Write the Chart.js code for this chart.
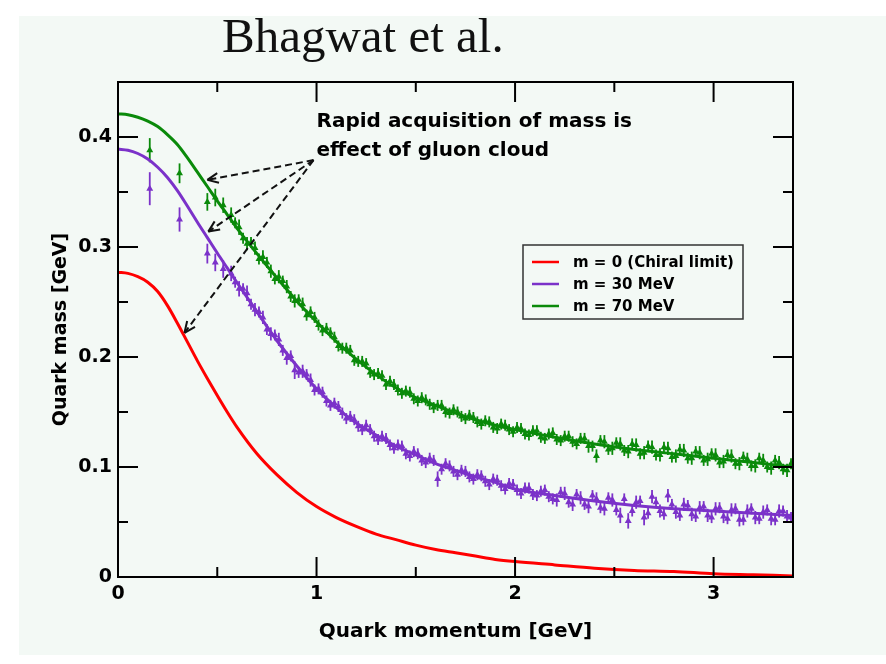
<!DOCTYPE html>
<html>
<head>
<meta charset="utf-8">
<title>Quark mass function</title>
<script src="https://cdn.jsdelivr.net/npm/chart.js@4.4.0/dist/chart.umd.min.js"></script>
<style>
  html, body { margin: 0; padding: 0; background: #fff; }
  #wrap { position: relative; width: 886px; height: 664px; overflow: hidden; }
  #panel { position: absolute; left: 19px; top: 16px; width: 867px; height: 639px; background: #f3f9f5; }
  #title { position: absolute; left: 222px; top: 7px; font: 49px "Liberation Serif", "Times New Roman", serif; color: #111; white-space: nowrap; }
  canvas { position: absolute; left: 0; top: 0; }
</style>
</head>
<body>
<div id="wrap">
  <div id="panel"></div>
  <div id="title">Bhagwat et al.</div>
  <canvas id="chart" width="886" height="664"></canvas>
</div>
<script>
// smooth curves (DSE results)
const curveP = [0, 0.05, 0.1, 0.15, 0.2, 0.25, 0.3, 0.35, 0.4, 0.45, 0.5, 0.55, 0.6,
  0.7, 0.8, 0.9, 1.0, 1.1, 1.2, 1.3, 1.4, 1.5, 1.6, 1.7, 1.8, 1.9, 2.0,
  2.2, 2.4, 2.6, 2.8, 3.0, 3.2, 3.4];
const chiralCurve = [0.277, 0.276, 0.273, 0.268, 0.2595, 0.2465, 0.2305, 0.2135, 0.1965, 0.1805, 0.165, 0.150, 0.136,
  0.112, 0.093, 0.077, 0.064, 0.054, 0.046, 0.039, 0.034, 0.029, 0.025, 0.022, 0.019, 0.016, 0.014,
  0.011, 0.008, 0.006, 0.005, 0.003, 0.002, 0.001];
const m30Curve = [0.389, 0.388, 0.385, 0.380, 0.3725, 0.363, 0.351, 0.337, 0.3225, 0.3085, 0.2945, 0.281, 0.2675,
  0.241, 0.215, 0.192, 0.171, 0.154, 0.140, 0.129, 0.119, 0.111, 0.103, 0.097, 0.091, 0.086, 0.080,
  0.074, 0.069, 0.065, 0.062, 0.060, 0.058, 0.056];
const m70Curve = [0.421, 0.4203, 0.418, 0.4145, 0.4095, 0.402, 0.393, 0.381, 0.368, 0.355, 0.342, 0.3295, 0.317,
  0.294, 0.272, 0.251, 0.232, 0.214, 0.198, 0.184, 0.172, 0.163, 0.156, 0.149, 0.143, 0.138, 0.134,
  0.127, 0.121, 0.116, 0.112, 0.108, 0.104, 0.100];

// lattice points, first momentum set
const latticeP = [0.16, 0.31, 0.45, 0.49, 0.53, 0.57, 0.61, 0.65, 0.69, 0.73,
  0.77, 0.81, 0.85, 0.89, 0.93, 0.97, 1.01, 1.05, 1.09, 1.13,
  1.17, 1.21, 1.25, 1.29, 1.33, 1.37, 1.41, 1.45, 1.49, 1.53,
  1.57, 1.61, 1.65, 1.69, 1.73, 1.77, 1.81, 1.85, 1.89, 1.93,
  1.97, 2.01, 2.05, 2.09, 2.13, 2.17, 2.21, 2.25, 2.29, 2.33,
  2.37, 2.41, 2.45, 2.49, 2.53, 2.57, 2.61, 2.65, 2.69, 2.73,
  2.77, 2.81, 2.85, 2.89, 2.93, 2.97, 3.01, 3.05, 3.09, 3.13,
  3.17, 3.21, 3.25, 3.29, 3.33, 3.37];
const m70Lattice = [0.388, 0.367, 0.341, 0.345, 0.338, 0.329, 0.318, 0.303, 0.299, 0.291,
  0.278, 0.273, 0.264, 0.251, 0.248, 0.241, 0.229, 0.226, 0.218, 0.208,
  0.206, 0.196, 0.194, 0.184, 0.183, 0.178, 0.170, 0.169, 0.162, 0.163,
  0.157, 0.156, 0.150, 0.152, 0.146, 0.147, 0.141, 0.142, 0.136, 0.139,
  0.134, 0.136, 0.130, 0.133, 0.127, 0.130, 0.125, 0.128, 0.123, 0.126,
  0.119, 0.110, 0.123, 0.117, 0.121, 0.114, 0.120, 0.113, 0.118, 0.111,
  0.117, 0.110, 0.115, 0.108, 0.113, 0.107, 0.111, 0.105, 0.110, 0.103,
  0.107, 0.101, 0.106, 0.099, 0.104, 0.097];
const m70Err = [0.011, 0.009, 0.008, 0.008, 0.007, 0.007, 0.007, 0.006, 0.006, 0.006,
  0.006, 0.006, 0.006, 0.006, 0.006, 0.005, 0.005, 0.005, 0.005, 0.005,
  0.005, 0.005, 0.005, 0.005, 0.005, 0.005, 0.005, 0.005, 0.005, 0.005,
  0.005, 0.005, 0.005, 0.005, 0.005, 0.005, 0.005, 0.005, 0.005, 0.005,
  0.005, 0.005, 0.005, 0.005, 0.005, 0.005, 0.005, 0.005, 0.005, 0.005,
  0.006, 0.006, 0.006, 0.006, 0.006, 0.006, 0.006, 0.006, 0.006, 0.006,
  0.006, 0.006, 0.006, 0.006, 0.006, 0.006, 0.006, 0.006, 0.006, 0.006,
  0.006, 0.006, 0.006, 0.006, 0.006, 0.006];
const m30Lattice = [0.353, 0.325, 0.294, 0.286, 0.280, 0.276, 0.262, 0.258, 0.243, 0.236,
  0.221, 0.216, 0.199, 0.188, 0.187, 0.179, 0.171, 0.160, 0.158, 0.149,
  0.146, 0.137, 0.138, 0.128, 0.128, 0.120, 0.120, 0.112, 0.114, 0.106,
  0.108, 0.089, 0.103, 0.096, 0.097, 0.091, 0.093, 0.087, 0.089, 0.083,
  0.085, 0.079, 0.081, 0.075, 0.078, 0.073, 0.070, 0.076, 0.066, 0.072,
  0.064, 0.071, 0.062, 0.070, 0.056, 0.051, 0.068, 0.054, 0.073, 0.060,
  0.074, 0.059, 0.066, 0.057, 0.063, 0.056, 0.062, 0.055, 0.061, 0.052,
  0.060, 0.054, 0.059, 0.053, 0.060, 0.055];
const m30Err = [0.015, 0.011, 0.009, 0.008, 0.008, 0.007, 0.007, 0.007, 0.006, 0.006,
  0.006, 0.006, 0.006, 0.008, 0.006, 0.006, 0.005, 0.005, 0.005, 0.005,
  0.005, 0.005, 0.005, 0.005, 0.005, 0.005, 0.005, 0.005, 0.005, 0.005,
  0.005, 0.007, 0.005, 0.005, 0.005, 0.005, 0.005, 0.005, 0.005, 0.005,
  0.005, 0.005, 0.005, 0.005, 0.005, 0.005, 0.006, 0.006, 0.006, 0.006,
  0.006, 0.006, 0.006, 0.006, 0.007, 0.007, 0.006, 0.007, 0.006, 0.006,
  0.006, 0.006, 0.006, 0.006, 0.006, 0.006, 0.006, 0.006, 0.006, 0.006,
  0.006, 0.006, 0.006, 0.006, 0.006, 0.006];

// lattice points, second momentum set (other directions)
const latticeP2 = [0.59, 0.63, 0.67, 0.71, 0.75, 0.79, 0.83, 0.87, 0.91, 0.95,
  0.99, 1.03, 1.07, 1.11, 1.15, 1.19, 1.23, 1.27, 1.31, 1.35,
  1.39, 1.43, 1.47, 1.51, 1.55, 1.59, 1.63, 1.67, 1.71, 1.75,
  1.79, 1.83, 1.87, 1.91, 1.95, 1.99, 2.03, 2.07, 2.11, 2.15,
  2.19, 2.23, 2.27, 2.31, 2.35, 2.39, 2.43, 2.47, 2.51, 2.55,
  2.59, 2.63, 2.67, 2.71, 2.75, 2.79, 2.83, 2.87, 2.91, 2.95,
  2.99, 3.03, 3.07, 3.11, 3.15, 3.19, 3.23, 3.27, 3.31, 3.35,
  3.39];
const m70Lattice2 = [0.322, 0.308, 0.304, 0.289, 0.286, 0.271, 0.269, 0.255, 0.252, 0.238,
  0.236, 0.224, 0.222, 0.210, 0.208, 0.197, 0.196, 0.186, 0.185, 0.175,
  0.175, 0.167, 0.168, 0.160, 0.161, 0.154, 0.156, 0.149, 0.150, 0.144,
  0.145, 0.139, 0.141, 0.135, 0.138, 0.132, 0.135, 0.129, 0.133, 0.126,
  0.131, 0.124, 0.128, 0.121, 0.126, 0.119, 0.124, 0.116, 0.122, 0.115,
  0.121, 0.112, 0.119, 0.111, 0.118, 0.109, 0.116, 0.108, 0.114, 0.106,
  0.112, 0.104, 0.111, 0.103, 0.109, 0.101, 0.108, 0.100, 0.106, 0.098,
  0.103];
const m30Lattice2 = [0.268, 0.262, 0.248, 0.241, 0.225, 0.220, 0.206, 0.201, 0.186, 0.184,
  0.170, 0.168, 0.156, 0.155, 0.144, 0.143, 0.134, 0.134, 0.125, 0.126,
  0.117, 0.119, 0.110, 0.112, 0.104, 0.106, 0.098, 0.101, 0.093, 0.096,
  0.089, 0.092, 0.084, 0.088, 0.080, 0.084, 0.076, 0.081, 0.074, 0.079,
  0.071, 0.077, 0.068, 0.075, 0.066, 0.074, 0.063, 0.072, 0.061, 0.071,
  0.060, 0.069, 0.058, 0.068, 0.057, 0.066, 0.056, 0.065, 0.055, 0.064,
  0.054, 0.063, 0.053, 0.062, 0.052, 0.062, 0.053, 0.061, 0.052, 0.060,
  0.054];
const lattice2Err = 0.005;

const seriesLabels = ['m = 0 (Chiral limit)', 'm = 30 MeV', 'm = 70 MeV'];
const seriesColors = ['#ff0000', '#7b32c9', '#0a8a0a'];

const xMajor = [0, 1, 2, 3];
const xTickLabels = ['0', '1', '2', '3'];
const yMajor = [0, 0.1, 0.2, 0.3, 0.4];
const yTickLabels = ['0', '0.1', '0.2', '0.3', '0.4'];

const noteLines = ['Rapid acquisition of mass is', 'effect of gluon cloud'];
const noteX = 1.0;
const noteY = [0.409, 0.383];
const arrowFrom = [0.985, 0.379];
const arrowTips = [[0.45, 0.361], [0.455, 0.314], [0.335, 0.222]];

const FONT = '"DejaVu Sans", "Liberation Sans", sans-serif';

const pts = (xs, ys) => xs.map((x, i) => ({ x, y: ys[i] }));

function findLabel(v, majors, labels) {
  const i = majors.findIndex(m => Math.abs(m - v) < 1e-6);
  return i < 0 ? '' : labels[i];
}

const curve = (i, data) => ({
  label: seriesLabels[i],
  data: pts(curveP, data),
  showLine: true,
  borderColor: seriesColors[i],
  borderWidth: 3,
  pointRadius: 0,
  cubicInterpolationMode: 'monotone',
  order: 0
});

const lattice = (i, xs, data, err) => ({
  label: seriesLabels[i] + ' lattice',
  data: pts(xs, data),
  errors: err,
  showLine: false,
  pointStyle: 'triangle',
  pointRadius: 4,
  backgroundColor: seriesColors[i],
  borderColor: seriesColors[i],
  borderWidth: 0,
  order: 1
});

const decorations = {
  id: 'decorations',
  beforeDatasetsDraw(chart) {
    const { ctx, scales: { x, y } } = chart;
    ctx.save();
    ctx.lineWidth = 1.8;
    chart.data.datasets.forEach(ds => {
      if (ds.errors === undefined) return;
      ctx.strokeStyle = ds.borderColor;
      ds.data.forEach((p, i) => {
        const e = Array.isArray(ds.errors) ? ds.errors[i] : ds.errors;
        const px = x.getPixelForValue(p.x);
        ctx.beginPath();
        ctx.moveTo(px, y.getPixelForValue(p.y - e));
        ctx.lineTo(px, y.getPixelForValue(p.y + e));
        ctx.stroke();
      });
    });
    ctx.restore();
  },
  afterDraw(chart) {
    const { ctx, chartArea: a, scales: { x, y } } = chart;
    ctx.save();
    ctx.strokeStyle = '#000';
    ctx.lineWidth = 2;
    const seg = (x1, y1, x2, y2) => { ctx.beginPath(); ctx.moveTo(x1, y1); ctx.lineTo(x2, y2); ctx.stroke(); };

    // inward ticks on all four sides
    x.ticks.forEach(t => {
      const v = t.value;
      if (Math.abs(v * 2 - Math.round(v * 2)) > 1e-6) return;
      const len = Math.abs(v - Math.round(v)) < 1e-6 ? 20 : 10;
      const px = x.getPixelForValue(v);
      seg(px, a.bottom, px, a.bottom - len);
      seg(px, a.top, px, a.top + len);
    });
    y.ticks.forEach(t => {
      const k = Math.round(t.value * 100);
      if (Math.abs(t.value * 100 - k) > 1e-6 || k % 5 !== 0) return;
      const len = k % 10 === 0 ? 20 : 10;
      const py = y.getPixelForValue(t.value);
      seg(a.left, py, a.left + len, py);
      seg(a.right, py, a.right - len, py);
    });
    ctx.strokeRect(a.left, a.top, a.right - a.left, a.bottom - a.top);

    // legend
    const lx = a.left + 405, ly = a.top + 163;
    ctx.lineWidth = 1.5;
    ctx.strokeStyle = '#333';
    ctx.strokeRect(lx, ly, 220, 74);
    ctx.font = 'bold 15px ' + FONT;
    ctx.textBaseline = 'middle';
    ctx.fillStyle = '#000';
    seriesLabels.forEach((s, i) => {
      const ry = ly + 17 + i * 22;
      ctx.strokeStyle = seriesColors[i];
      ctx.lineWidth = 2.5;
      seg(lx + 9, ry, lx + 36, ry);
      ctx.fillText(s, lx + 50, ry + 1);
    });

    // annotation
    ctx.font = 'bold 20px ' + FONT;
    ctx.textBaseline = 'alphabetic';
    noteLines.forEach((s, i) => ctx.fillText(s, x.getPixelForValue(noteX), y.getPixelForValue(noteY[i])));
    ctx.strokeStyle = '#111';
    ctx.lineWidth = 2;
    const x0 = x.getPixelForValue(arrowFrom[0]), y0 = y.getPixelForValue(arrowFrom[1]);
    arrowTips.forEach(([tx, ty]) => {
      const x1 = x.getPixelForValue(tx), y1 = y.getPixelForValue(ty);
      ctx.setLineDash([7, 4]);
      seg(x0, y0, x1, y1);
      ctx.setLineDash([]);
      const ang = Math.atan2(y0 - y1, x0 - x1);
      [0.42, -0.42].forEach(d => seg(x1, y1, x1 + 12 * Math.cos(ang + d), y1 + 12 * Math.sin(ang + d)));
    });
    ctx.restore();
  }
};

new Chart(document.getElementById('chart'), {
  type: 'scatter',
  data: {
    datasets: [
      lattice(1, latticeP, m30Lattice, m30Err),
      lattice(1, latticeP2, m30Lattice2, lattice2Err),
      lattice(2, latticeP, m70Lattice, m70Err),
      lattice(2, latticeP2, m70Lattice2, lattice2Err),
      curve(0, chiralCurve),
      curve(1, m30Curve),
      curve(2, m70Curve)
    ]
  },
  options: {
    responsive: false,
    animation: false,
    devicePixelRatio: 1,
    layout: { padding: { left: 0, right: 93, top: 82, bottom: 0 } },
    plugins: { legend: { display: false }, tooltip: { enabled: false } },
    scales: {
      x: {
        type: 'linear', min: 0, max: 3.4,
        afterFit: s => { s.height = 87; },
        grid: { display: false, drawTicks: false },
        border: { display: false },
        ticks: {
          stepSize: 0.5, autoSkip: false, maxRotation: 0, padding: 6, color: '#000',
          font: { family: FONT, size: 19, weight: 'bold' },
          callback: v => findLabel(v, xMajor, xTickLabels)
        },
        title: {
          display: true, text: 'Quark momentum [GeV]', color: '#000',
          font: { family: FONT, size: 20, weight: 'bold' },
          padding: { top: 0, bottom: 20 }
        }
      },
      y: {
        type: 'linear', min: 0, max: 0.45,
        afterFit: s => { s.width = 118; },
        grid: { display: false, drawTicks: false },
        border: { display: false },
        ticks: {
          stepSize: 0.05, autoSkip: false, padding: 6, color: '#000',
          font: { family: FONT, size: 19, weight: 'bold' },
          callback: v => findLabel(v, yMajor, yTickLabels)
        },
        title: {
          display: true, text: 'Quark mass [GeV]', color: '#000',
          font: { family: FONT, size: 19, weight: 'bold' },
          padding: { top: 50, bottom: 0 }
        }
      }
    }
  },
  plugins: [decorations]
});
</script>
</body>
</html>
